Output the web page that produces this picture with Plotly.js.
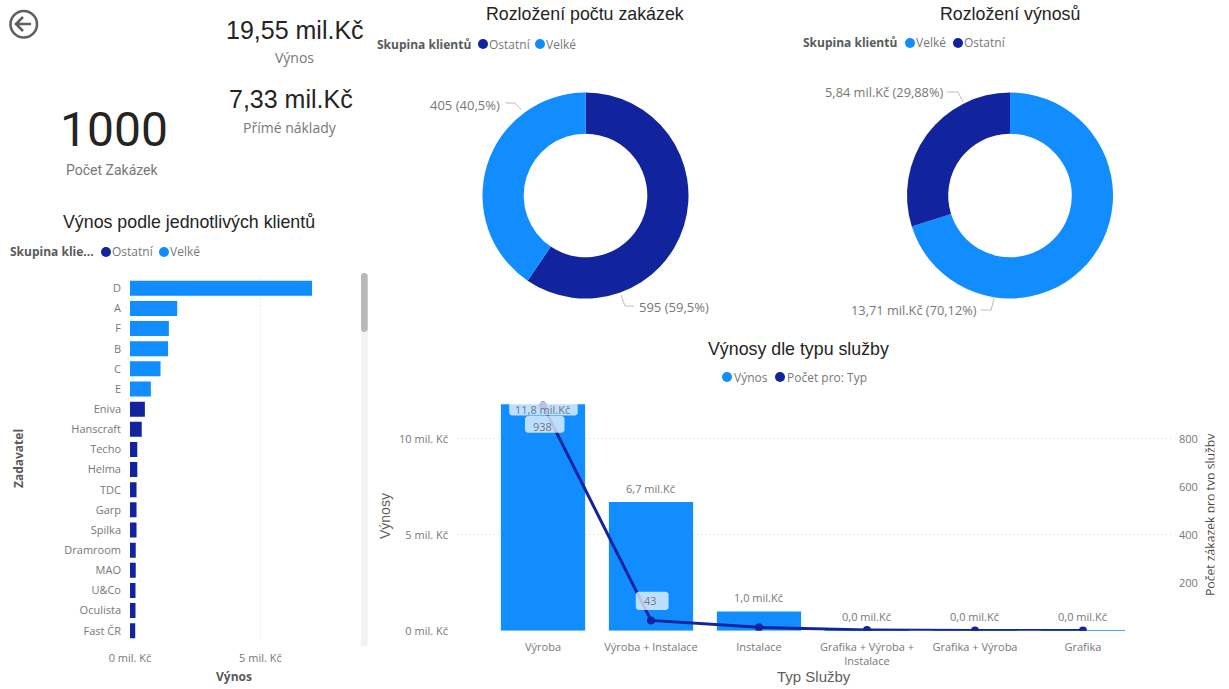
<!DOCTYPE html>
<html lang="cs">
<head>
<meta charset="utf-8">
<title>Výnosy a zakázky</title>
<script src="https://cdn.plot.ly/plotly-3.0.1.min.js"></script>
<style>
  html, body { margin: 0; padding: 0; background: #fff; }
  #report { width: 1229px; height: 689px; }
</style>
</head>
<body>
<div id="report"></div>
<script>
// Client revenue
const clients = ['D','A','F','B','C','E','Eniva','Hanscraft','Techo','Helma','TDC','Garp','Spilka','Dramroom','MAO','U&Co','Oculista','Fast ČR'];
const clientGroups = ['Velké','Velké','Velké','Velké','Velké','Velké','Ostatní','Ostatní','Ostatní','Ostatní','Ostatní','Ostatní','Ostatní','Ostatní','Ostatní','Ostatní','Ostatní','Ostatní'];
const clientRevenue = [6.98,1.81,1.49,1.46,1.17,0.80,0.57,0.45,0.28,0.28,0.25,0.25,0.25,0.22,0.22,0.21,0.21,0.20];

// Donuts
const orderGroups = ['Ostatní','Velké'];
const orderCounts = [595,405];
const orderShares = ['59,5%','40,5%'];
const revenueGroups = ['Velké','Ostatní'];
const revenueValues = [13.71,5.84];
const revenueShares = ['70,12%','29,88%'];

// Service types
const serviceTypes = ['Výroba','Výroba + Instalace','Instalace','Grafika + Výroba +<br>Instalace','Grafika + Výroba','Grafika'];
const serviceRevenue = [11.8,6.7,1.0,0.02,0.02,0.01];
const serviceCounts = [938,43,14,3,1,1];

// KPI cards
const kpiRevenue = '19,55 mil.Kč';
const kpiCosts = '7,33 mil.Kč';
const kpiOrders = '1000';

const LIGHT = '#118DFF', DARK = '#12239E';
const INK = '#252423', LABEL = '#777777', AXIS = '#605E5C';
const UI = 'Open Sans, sans-serif', HEAD = 'Liberation Sans, Arial, sans-serif', NUM = 'Roboto, sans-serif';
const W = 1229, H = 689;
const fx = x => x / W, fy = y => 1 - y / H;
const comma = (v, d) => v.toFixed(d).replace('.', ',');
const colorOf = g => g === 'Velké' ? LIGHT : DARK;

const annotations = [], shapes = [];

// Annotations carry a little padding, so side-anchored text is nudged outwards.
function text(str, x, y, size, color, font, opts) {
  const o = opts || {};
  const nudge = o.xanchor === 'left' ? -2 : o.xanchor === 'right' ? 2 : 0;
  annotations.push(Object.assign({
    text: str, x: fx(x + nudge), y: fy(y), xref: 'paper', yref: 'paper', showarrow: false,
    xanchor: 'center', yanchor: 'middle', font: {size, color, family: font}
  }, o));
}
function dot(x, y, color) {
  shapes.push({type:'circle', xref:'paper', yref:'paper', x0:fx(x-5), x1:fx(x+5), y0:fy(y+5), y1:fy(y-5),
    fillcolor: color, line:{width:0}});
}
function rounded(x0, y0, x1, y1, r, fill) {
  const p = (x, y) => fx(x) + ' ' + fy(y);
  const k = 0.45 * r;
  const path = 'M' + p(x0+r,y0) + ' L' + p(x1-r,y0) + ' C' + p(x1-k,y0) + ' ' + p(x1,y0+k) + ' ' + p(x1,y0+r) +
    ' L' + p(x1,y1-r) + ' C' + p(x1,y1-k) + ' ' + p(x1-k,y1) + ' ' + p(x1-r,y1) +
    ' L' + p(x0+r,y1) + ' C' + p(x0+k,y1) + ' ' + p(x0,y1-k) + ' ' + p(x0,y1-r) +
    ' L' + p(x0,y0+r) + ' C' + p(x0,y0+k) + ' ' + p(x0+k,y0) + ' ' + p(x0+r,y0) + ' Z';
  shapes.push({type:'path', xref:'paper', yref:'paper', path, fillcolor: fill, line:{width:0}, layer:'above'});
}
function leader(points) {
  const path = points.map((q, i) => (i ? 'L' : 'M') + fx(q[0]) + ' ' + fy(q[1])).join(' ');
  shapes.push({type:'path', xref:'paper', yref:'paper', path, line:{color:'#BDBDBD', width:1}});
}
function legend(title, tx, y, entries) {
  text(title, tx, y, 12, '#5A5A5A', UI, {xanchor:'left', font:{size:12, color:'#5A5A5A', family:UI, weight:700}});
  entries.forEach(e => {
    dot(e.dot, y, e.color);
    text(e.label, e.dot + 6, y, 12, LABEL, UI, {xanchor:'left'});
  });
}

// Back button
shapes.push({type:'circle', xref:'paper', yref:'paper', x0:fx(10.5), x1:fx(37), y0:fy(37.5), y1:fy(11),
  line:{color:'#5F5F5F', width:2.6}});
shapes.push({type:'path', xref:'paper', yref:'paper', line:{color:'#5F5F5F', width:2.6},
  path:'M'+fx(31)+' '+fy(24)+' L'+fx(16)+' '+fy(24)+' M'+fx(23)+' '+fy(17)+' L'+fx(16)+' '+fy(24)+' L'+fx(23)+' '+fy(31)});

// KPI cards
text(kpiRevenue, 295, 30, 25, INK, HEAD);
text('Výnos', 294, 57, 14, LABEL, UI);
text(kpiCosts, 290.5, 99, 25, INK, HEAD);
text('Přímé náklady', 290, 127, 14, LABEL, UI);
text(kpiOrders, 114, 129, 48, INK, NUM);
text('Počet Zakázek', 112, 170, 14, LABEL, NUM);

// Titles
text('Rozložení počtu zakázek', 585, 14, 17.8, INK, HEAD);
text('Rozložení výnosů', 1010, 14, 17.8, INK, HEAD);
text('Výnos podle jednotlivých klientů', 189, 222, 17.8, INK, HEAD);
text('Výnosy dle typu služby', 798, 349, 17.8, INK, HEAD);

// Legends
legend('Skupina klientů', 377, 44, [{dot:483, label:'Ostatní', color:DARK},{dot:540, label:'Velké', color:LIGHT}]);
legend('Skupina klientů', 803, 43, [{dot:910, label:'Velké', color:LIGHT},{dot:958, label:'Ostatní', color:DARK}]);
legend('Skupina klie...', 10, 252, [{dot:106, label:'Ostatní', color:DARK},{dot:164, label:'Velké', color:LIGHT}]);
dot(727, 377, LIGHT); text('Výnos', 734, 377, 12, LABEL, UI, {xanchor:'left'});
dot(780, 377, DARK); text('Počet pro: Typ', 787, 377, 12, LABEL, UI, {xanchor:'left'});

// Donut callouts
text(orderCounts[1] + ' (' + orderShares[1] + ')', 500, 104.5, 13, LABEL, UI, {xanchor:'right'});
leader([[505.5,103],[515,103],[521.5,110]]);
text(orderCounts[0] + ' (' + orderShares[0] + ')', 638.5, 306.5, 13, LABEL, UI, {xanchor:'left'});
leader([[621,295],[625,306],[634,306]]);
text(comma(revenueValues[1],2) + ' mil.Kč (' + revenueShares[1] + ')', 943, 92, 12.8, LABEL, UI, {xanchor:'right'});
leader([[947,92],[958,92],[963,102]]);
text(comma(revenueValues[0],2) + ' mil.Kč (' + revenueShares[0] + ')', 977, 309.5, 12.8, LABEL, UI, {xanchor:'right'});
leader([[981,310],[991,310],[994,299]]);

// Client list scrollbar
rounded(361, 273, 367.7, 646.7, 3, '#F3F3F3');
rounded(361, 273, 367.7, 332, 3, '#B9B9B9');

// Axis captions
text('Zadavatel', 18, 459, 12, '#5A5A5A', UI, {textangle:-90, font:{size:12, color:'#5A5A5A', family:UI, weight:700}});
text('Výnos', 234, 676, 12, '#5A5A5A', UI, {font:{size:12, color:'#5A5A5A', family:UI, weight:700}});
text('Výnosy', 385, 516, 14, AXIS, HEAD, {textangle:-90});
text('Typ Služby', 814, 676, 15, AXIS, HEAD);
text('Počet zákazek pro typ služby', 1210.5, 514.5, 12.2, '#4A4A4A', UI, {textangle:-90});
// Right edge of the report canvas, which trims that caption
annotations.push({text:' ', x:1, y:fy(515), xref:'paper', yref:'paper', xanchor:'right', yanchor:'middle', showarrow:false,
  width:13, height:200, bgcolor:'#FFFFFF', borderpad:0});

// Label plates over the first two service points
rounded(509.2, 402, 577.7, 415.6, 3, 'rgba(255,255,255,0.72)');
rounded(525, 416, 564.5, 432.7, 3, 'rgba(255,255,255,0.72)');
rounded(635.8, 591.7, 668.6, 610, 3, 'rgba(255,255,255,0.72)');

// Value labels tied to the service axes
serviceRevenue.forEach((v, i) => {
  annotations.push({xref:'x2', yref:'y2', x:i, y:v, yshift: i === 0 ? -5 : 14, yanchor:'middle', showarrow:false,
    text: comma(v,1) + ' mil.Kč', font:{size:11, color:LABEL, family:UI}});
});
[0,1].forEach(i => {
  annotations.push({xref:'x2', yref:'y3', x:i, y:serviceCounts[i], yshift: i === 0 ? -21 : 20, yanchor:'middle', showarrow:false,
    text: String(serviceCounts[i]), font:{size:11, color:LABEL, family:UI}});
});

const dimTicks = {size:11, color:LABEL, family:UI};
const dotted = {showgrid:true, gridcolor:'#DADADA', griddash:'1px 3px', gridwidth:1, zeroline:false, showline:false, ticks:''};

const data = [
  {type:'pie', labels:orderGroups, values:orderCounts, hole:0.6, sort:false, direction:'clockwise', rotation:0,
   marker:{colors:orderGroups.map(colorOf)}, textinfo:'none', showlegend:false, hoverinfo:'label+value+percent',
   domain:{x:[fx(482.5),fx(688.5)], y:[fy(298.5),fy(92.5)]}},
  {type:'pie', labels:revenueGroups, values:revenueValues, hole:0.6, sort:false, direction:'clockwise', rotation:0,
   marker:{colors:revenueGroups.map(colorOf)}, textinfo:'none', showlegend:false, hoverinfo:'label+value+percent',
   domain:{x:[fx(907),fx(1113)], y:[fy(298.5),fy(92.5)]}},
  {type:'bar', orientation:'h', y:clients, x:clientRevenue, marker:{color:clientGroups.map(colorOf)}, width:0.745,
   xaxis:'x', yaxis:'y', showlegend:false},
  {type:'bar', x:serviceTypes, y:serviceRevenue, marker:{color:LIGHT}, width:0.78, xaxis:'x2', yaxis:'y2', showlegend:false},
  {type:'scatter', mode:'lines+markers', x:serviceTypes, y:serviceCounts, line:{color:DARK, width:3}, marker:{color:DARK, size:8},
   xaxis:'x2', yaxis:'y3', showlegend:false}
];

const layout = {
  width:W, height:H, margin:{l:0,r:0,t:0,b:0}, paper_bgcolor:'#fff', plot_bgcolor:'rgba(0,0,0,0)',
  showlegend:false, annotations, shapes,
  xaxis: Object.assign({}, dotted, {domain:[fx(130),fx(340)], range:[0,8.05], anchor:'y', tickvals:[0,5], ticktext:['0 mil. Kč','5 mil. Kč'],
    tickfont:dimTicks, ticklabelstandoff:9}),
  yaxis: Object.assign({}, dotted, {domain:[fy(640.8),fy(278.2)], anchor:'x', type:'category', categoryorder:'array', categoryarray:clients,
    range:[17.5,-0.5], showgrid:false, tickfont:dimTicks, ticklabelstandoff:8}),
  xaxis2: Object.assign({}, dotted, {domain:[fx(458),fx(1174)], range:[-0.787,5.843], anchor:'y2', type:'category', showgrid:false,
    tickfont:dimTicks, ticklabelstandoff:8, tickangle:0, categoryorder:'array', categoryarray:serviceTypes}),
  yaxis2: Object.assign({}, dotted, {domain:[fy(630.7),fy(395)], range:[0,12.276], anchor:'x2', tickvals:[0,5,10],
    ticktext:['0 mil. Kč','5 mil. Kč','10 mil. Kč'], tickfont:dimTicks, ticklabelstandoff:9}),
  yaxis3: Object.assign({}, dotted, {domain:[fy(630.7),fy(395)], range:[0,982], anchor:'x2', overlaying:'y2', side:'right', showgrid:false,
    tickvals:[200,400,600,800], tickfont:dimTicks, ticklabelstandoff:4})
};

Plotly.newPlot('report', data, layout, {displayModeBar:false, responsive:false});
</script>
</body>
</html>
